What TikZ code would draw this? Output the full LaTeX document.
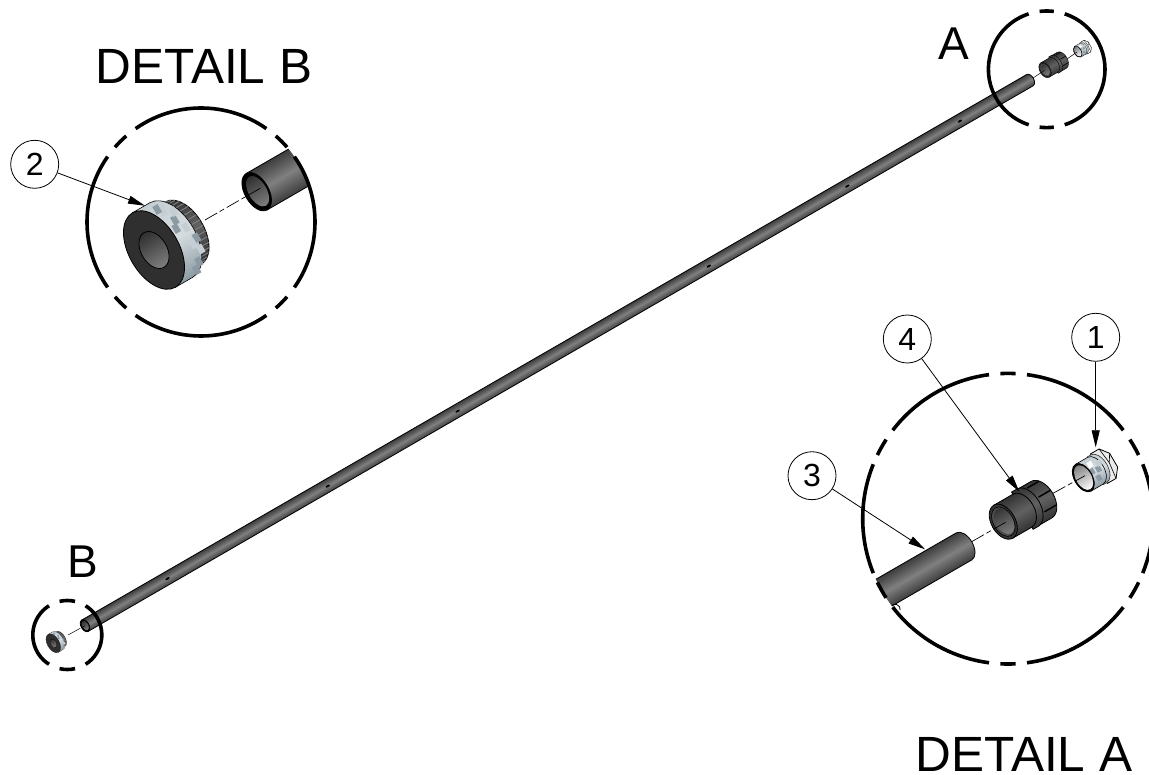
\documentclass[tikz,border=0pt]{standalone}
\usepackage{fontspec}
\setmainfont{Liberation Sans}
\usetikzlibrary{arrows.meta}
\definecolor{partdark}{HTML}{2F2F2F}
\definecolor{partmid}{HTML}{808080}
\definecolor{partlight}{HTML}{C4CED3}
\definecolor{partblue}{HTML}{8C9BA3}
\tikzset{
  partaxis/.style n args={3}{transform canvas={shift={(#1,#2)},rotate=30,scale=#3}},
  metal/.style={top color=black!76,bottom color=black!76,middle color=partmid,draw=black,line width=.8pt},
  nutmetal/.style={top color=black!80,bottom color=black!80,middle color=black!62,draw=black,line width=.8pt},
  silver/.style={top color=partlight,bottom color=partblue,middle color=partlight!70!white,draw=black,line width=.6pt},
  rib/.style={draw=black,line width=1.4pt},
  knurl/.style={draw=partmid,line width=.9pt},
  detail/.style={line width=3.6pt},
  axisline/.style={line width=.7pt,dash pattern=on 14pt off 3pt on 5pt off 3pt},
  leader/.style={line width=.8pt,-{Stealth[length=17pt,width=8pt,inset=0pt]}},
  balloon/.style={circle,draw,line width=.8pt,minimum size=48pt,inner sep=0pt,font=\fontsize{32}{32}\selectfont},
  titlelabel/.style={anchor=base,inner sep=0pt,font=\fontsize{49.5}{50}\selectfont},
  viewlabel/.style={anchor=base,inner sep=0pt,font=\fontsize{46}{46}\selectfont},
}
% x0, x1, radius, x radius: body closed by a rounded far end
\newcommand{\bodyPath}[4]{(#1,-#3) -- (#2,-#3) arc[start angle=-90,end angle=90,x radius=#4,y radius=#3] -- (#1,#3) -- cycle}
\newcommand{\detailCircle}[4]{%
  \foreach \from/\to in {#4}
    \draw[detail] ([shift={(\from:#3)}]#1,#2) arc[start angle=\from,end angle=\to,radius=#3];
}
\newcommand{\openEnd}[3]{%
  \draw[fill=black,line width=.8pt] (0,0) ellipse [x radius=#3,y radius=#2];
  \shade[top color=partdark,bottom color=partmid] (#1,0) ellipse [x radius=#3*.76,y radius=#2*.8];
}
\newcommand{\knobPart}[3]{%
  \begin{scope}[partaxis={#1}{#2}{#3}]
    \shadedraw[nutmetal] \bodyPath{18}{34}{36}{21};
    \foreach \t in {-85,-75,...,85}
      \draw[knurl] ({20+21*cos(\t)},{36*sin(\t)}) -- ({34+21*cos(\t)},{36*sin(\t)});
    \shadedraw[silver] \bodyPath{0}{20}{43}{25};
    \foreach \px/\py/\pc in {24/-34/partlight,30/-20/partblue,36/-8/partlight,40/6/partblue,38/18/partlight,30/28/partblue,20/-38/partblue,33/-28/partlight,27/-12/partblue,34/10/partlight,24/34/partblue}
      \fill[\pc] (\px,\py) rectangle ++(6,9);
    \draw[fill=partdark,line width=.8pt] (0,0) ellipse [x radius=25,y radius=43];
    \shadedraw[top color=partdark,bottom color=partmid,draw=black,line width=.8pt] (0,0) ellipse [x radius=13,y radius=20];
  \end{scope}%
}
\newcommand{\nutPart}[3]{%
  \begin{scope}[partaxis={#1}{#2}{#3}]
    \shadedraw[nutmetal] \bodyPath{28}{44}{21}{13};
    \foreach \t in {-55,-10,35}
      \draw[rib] ({30+13*cos(\t)},{21*sin(\t)}) -- ({44+13*cos(\t)},{21*sin(\t)});
    \shadedraw[nutmetal] \bodyPath{22}{28}{21.5}{13};
    \shadedraw[nutmetal] \bodyPath{0}{22}{19}{12};
    \draw[fill=black!80,line width=.8pt] (0,0) ellipse [x radius=12,y radius=19];
    \draw[fill=black!70,line width=.6pt] (0,0) ellipse [x radius=10,y radius=16];
    \shade[top color=black!80,bottom color=partmid] (1,0) ellipse [x radius=8.5,y radius=14];
  \end{scope}%
}
\newcommand{\fittingPart}[3]{%
  \begin{scope}[partaxis={#1}{#2}{#3}]
    \draw[fill=black!8,line width=.8pt] (18,-17) -- (28,-17) -- (35,-8) -- (35,8) -- (28,17) -- (18,17) -- cycle;
    \draw[line width=.6pt] (28,-17) -- (30,0) -- (28,17) (30,0) -- (35,-8);
    \shadedraw[silver,draw=black!80] \bodyPath{14}{18}{16}{9};
    \shadedraw[silver] \bodyPath{0}{14}{15.5}{9};
    \foreach \px/\py/\pc in {10/-11/white,15/-3/partblue,11/5/partblue,18/-8/partlight,8/-4/partblue}
      \fill[\pc] (\px,\py) rectangle ++(5,6);
    \draw[fill=black,line width=.8pt] (0,0) ellipse [x radius=9,y radius=15.5];
    \shade[top color=partmid,bottom color=white] (.3,0) ellipse [x radius=7.8,y radius=13.5];
  \end{scope}%
}
\begin{document}
\begin{tikzpicture}[x=1pt,y=-1pt]
  \useasboundingbox (0,0) rectangle (1149,775);

  % long rod with its two small views
  \begin{scope}[partaxis={85}{625.7}{1}]
    \shadedraw[metal] \bodyPath{0}{1091}{6.5}{4};
    \foreach \p in {95,280,430,720,880,1010}
      \fill[black] (\p,.5) ellipse [x radius=2.5,y radius=1];
    \openEnd{.3}{6.5}{4}
  \end{scope}
  \knobPart{53.3}{643.3}{.24}
  \nutPart{1045}{70}{.44}
  \fittingPart{1077.7}{51.7}{.4}

  % detail B
  \begin{scope}
    \clip (201,222) circle (114);
    \begin{scope}[partaxis={256.7}{191.7}{1}]
      \shadedraw[metal] \bodyPath{0}{90}{21}{12};
      \openEnd{1}{21}{12}
    \end{scope}
  \end{scope}
  \knobPart{154}{250}{1}

  % detail A
  \begin{scope}
    \clip (1008,518.7) circle (145.3);
    \begin{scope}[partaxis={964}{546.4}{1}]
      \shadedraw[metal] \bodyPath{-110}{0}{15.6}{9};
      \draw[line width=.8pt] (-91,15) arc[start angle=-90,end angle=40,radius=5];
    \end{scope}
  \end{scope}
  \nutPart{1003.3}{521.7}{1}
  \fittingPart{1083.3}{477.7}{1}

  % center lines
  \coordinate (rodEnd) at (1033,78);
  \coordinate (viewNut) at (1045,70);
  \coordinate (viewNutBack) at (1067,59);
  \coordinate (viewFitting) at (1077,52);
  \coordinate (rodStart) at (85,625.7);
  \coordinate (viewKnob) at (68,635);
  \coordinate (knobBack) at (205,220);
  \coordinate (tubeB) at (263,186.7);
  \coordinate (tubeA) at (971.7,541.7);
  \coordinate (nutA) at (1006,522);
  \coordinate (nutBack) at (1053,493.3);
  \coordinate (fittingA) at (1085,475.7);
  \draw[axisline,line width=.5pt] (rodEnd) -- (viewNut);
  \draw[axisline,line width=.5pt] (viewNutBack) -- (viewFitting);
  \draw[axisline,line width=.5pt] (viewKnob) -- (rodStart);
  \draw[axisline] (knobBack) -- (tubeB);
  \draw[axisline] (tubeA) -- (nutA);
  \draw[axisline] (nutBack) -- (fittingA);

  % phantom circles
  \detailCircle{201}{222}{114}{-125/-55,-49/-41,-35/35,41/49,55/125,131/139,145/215,221/229}
  \detailCircle{1008}{518.7}{145.3}{-22/22,26/33,37.5/82.5,87/93,97.5/142.5,147/154,158/202,206/213,217.5/262.5,267/273,277.5/322.5,327/334}
  \detailCircle{1046.7}{69.3}{58.3}{-72/72,83/97,108/252,263/277}
  \detailCircle{67.3}{635}{34.5}{-58/58,77/103,122/238,257/283}

  % labels
  \node[titlelabel] (titleB) at (204,84) {DETAIL B};
  \node[titlelabel] (titleA) at (1024,771.5) {DETAIL A};
  \node[viewlabel] (viewA) at (954,60) {A};
  \node[viewlabel] (viewB) at (83,577.5) {B};

  % balloons
  \node[balloon] (ballOne) at (1095.7,337.3) {1};
  \node[balloon] (ballTwo) at (34.7,164.3) {2};
  \node[balloon] (ballThree) at (812,475.7) {3};
  \node[balloon] (ballFour) at (907.3,339) {4};
  \coordinate (tipOne) at (1095.7,447.3);
  \coordinate (tipTwo) at (145,205.7);
  \coordinate (tipThree) at (925,549.3);
  \coordinate (tipFour) at (1019.3,491.7);
  \draw[leader] (ballOne) -- (tipOne);
  \draw[leader] (ballTwo) -- (tipTwo);
  \draw[leader] (ballThree) -- (tipThree);
  \draw[leader] (ballFour) -- (tipFour);
\end{tikzpicture}
\end{document}
